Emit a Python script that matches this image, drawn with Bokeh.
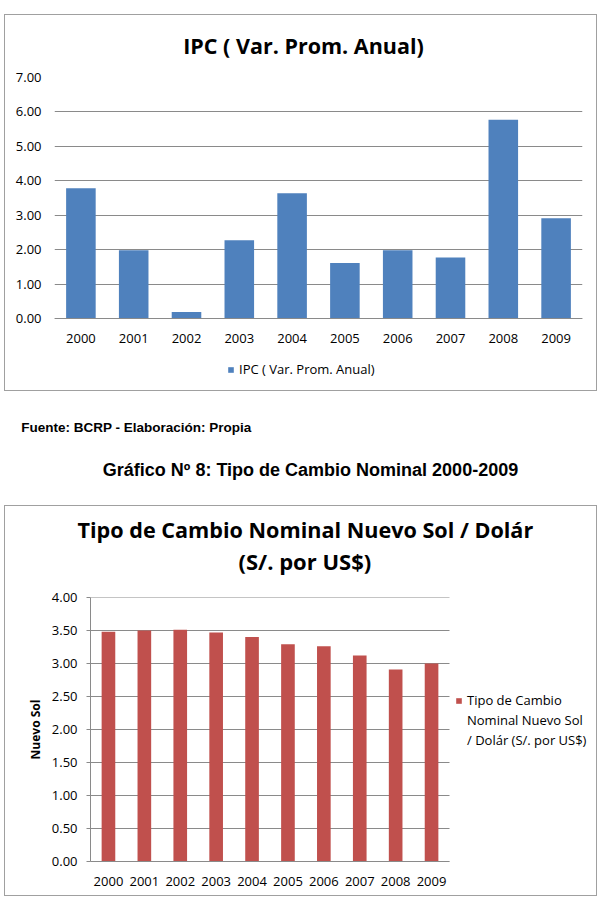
from bokeh.plotting import figure
from bokeh.models import (FactorRange, Range1d, FixedTicker, NumeralTickFormatter,
                          Legend, LegendItem, Label, Title, Spacer, ColumnDataSource)
from bokeh.embed import file_html
from bokeh.resources import INLINE

# ---------------- data ----------------
years = ["2000", "2001", "2002", "2003", "2004", "2005", "2006", "2007", "2008", "2009"]
ipc = [3.78, 1.98, 0.19, 2.27, 3.64, 1.61, 1.98, 1.77, 5.77, 2.91]
tc = [3.48, 3.50, 3.51, 3.47, 3.40, 3.29, 3.26, 3.12, 2.91, 3.00]
ipc_ticks = [0, 1, 2, 3, 4, 5, 6, 7]
tc_ticks = [0, 0.5, 1.0, 1.5, 2.0, 2.5, 3.0, 3.5, 4.0]

ipc_title = "IPC ( Var. Prom. Anual)"
ipc_series = "IPC ( Var. Prom. Anual)"
tc_title_1 = "Tipo de Cambio Nominal Nuevo Sol / Dolár"
tc_title_2 = "(S/. por US$)"
tc_series_lines = ["Tipo de Cambio", "Nominal Nuevo Sol", "/ Dolár (S/. por US$)"]
tc_ylabel = "Nuevo Sol"
source_note = "Fuente: BCRP - Elaboración: Propia"
caption = "Gráfico Nº 8: Tipo de Cambio Nominal 2000-2009"

FONT = "Open Sans"
GRID = "#8a8a8a"
BOX_STYLE = {"outline": "1px solid #a0a0a0", "outline-offset": "-5px"}
W = 601


def style_title(t, text, size, offset, standoff):
    t.text = text
    t.align = "left"
    t.text_font = FONT
    t.text_font_style = "bold"
    t.text_font_size = size
    t.text_color = "#000000"
    t.offset = offset
    t.standoff = standoff
    return t


# ---------------- chart 1: IPC ----------------
H1 = 385
# plot area: 0 at 241px below the 7.00 line; frame continues 67px below 0 to hold the legend
y1_low = -67 / (241 / 7)
p1 = figure(width=W, height=H1, x_range=FactorRange(*years), y_range=Range1d(y1_low, 7),
            output_backend="svg", toolbar_location=None,
            min_border_left=54, min_border_right=19, min_border_top=67, min_border_bottom=10,
            styles=BOX_STYLE)
p1.border_fill_alpha = 0
style_title(p1.title, ipc_title, "21.5px", 128.7, 35)
src1 = ColumnDataSource(dict(x=years, top=ipc))
r1 = p1.vbar(x="x", top="top", width=0.56, source=src1, fill_color="#4F81BD", line_color=None)

p1.yaxis.ticker = FixedTicker(ticks=ipc_ticks)
p1.yaxis.formatter = NumeralTickFormatter(format="0.00")
p1.yaxis.axis_line_color = None
p1.yaxis.major_tick_line_color = None
p1.yaxis.minor_tick_line_color = None
p1.yaxis.major_tick_out = 0
p1.yaxis.major_tick_in = 0
p1.yaxis.major_label_standoff = 13
p1.xaxis.fixed_location = 0
p1.xaxis.axis_line_color = GRID
p1.xaxis.major_tick_line_color = None
p1.xaxis.major_tick_out = 0
p1.xaxis.major_tick_in = 0
p1.xaxis.major_label_standoff = 15
for ax in (p1.xaxis, p1.yaxis):
    ax.major_label_text_font = FONT
    ax.major_label_text_font_size = "13px"
    ax.major_label_text_color = "#000000"
p1.xgrid.grid_line_color = None
p1.ygrid.grid_line_color = GRID
p1.outline_line_color = None

leg1 = Legend(items=[LegendItem(label=ipc_series, renderers=[r1])],
              location=(173, 6), glyph_width=7, glyph_height=7, label_standoff=5,
              label_height=20,
              label_text_font=FONT, label_text_font_size="13px", label_text_color="#000000",
              border_line_color=None, background_fill_alpha=0, margin=0, padding=4)
p1.add_layout(leg1)

# ---------------- middle text ----------------
HM = 106
pm = figure(width=W, height=HM, x_range=Range1d(0, W), y_range=Range1d(0, HM),
            output_backend="svg", toolbar_location=None,
            x_axis_location=None, y_axis_location=None, min_border=0)
pm.title.visible = False
pm.grid.visible = False
pm.outline_line_color = None
pm.add_layout(Label(x=20.7, y=HM - 31.7, text=source_note, text_font="Liberation Sans",
                    text_font_style="bold", text_font_size="13.5px", text_color="#000000",
                    text_align="left", text_baseline="middle"))
pm.add_layout(Label(x=310, y=HM - 74, text=caption, text_font="Liberation Sans",
                    text_font_style="bold", text_font_size="18px", text_color="#000000",
                    text_align="center", text_baseline="middle"))

# ---------------- chart 2: Tipo de cambio ----------------
H2 = 399
xpos = list(range(len(years)))
# bars occupy 359px for the 10 years; the frame continues to the right to hold the legend
x2_end = -0.5 + (592 - 90) / (359 / len(years))
p2 = figure(width=W, height=H2, x_range=Range1d(-0.5, x2_end), y_range=Range1d(0, 4),
            output_backend="svg", toolbar_location=None,
            min_border_left=90, min_border_right=9, min_border_top=96, min_border_bottom=39,
            styles=BOX_STYLE)
p2.border_fill_alpha = 0
style_title(p2.title, tc_title_1, "21.6px", -13, 0)
p2.add_layout(Title(text=" ", text_font=FONT, text_font_size="10px", standoff=6), "above")
p2.add_layout(style_title(Title(), tc_title_2, "22px", 148, 0), "above")

# horizontal gridlines only across the bar area
p2.segment(x0=[-0.5] * len(tc_ticks), x1=[len(years) - 0.5] * len(tc_ticks),
           y0=tc_ticks, y1=tc_ticks, line_color=GRID, line_width=1)
src2 = ColumnDataSource(dict(x=xpos, top=tc))
r2 = p2.vbar(x="x", top="top", width=0.38, source=src2, fill_color="#C0504D", line_color=None)
dummy = p2.vbar(x=[], top=[], width=0.38, fill_alpha=0, line_alpha=0)

p2.yaxis.ticker = FixedTicker(ticks=tc_ticks)
p2.yaxis.formatter = NumeralTickFormatter(format="0.00")
p2.yaxis.axis_line_color = GRID
p2.yaxis.major_tick_line_color = GRID
p2.yaxis.minor_tick_line_color = None
p2.yaxis.major_tick_out = 4
p2.yaxis.major_tick_in = 0
p2.yaxis.major_label_standoff = 9
p2.yaxis.axis_label = tc_ylabel
p2.yaxis.axis_label_text_font = FONT
p2.yaxis.axis_label_text_font_style = "bold"
p2.yaxis.axis_label_text_font_size = "12px"
p2.yaxis.axis_label_text_color = "#000000"
p2.yaxis.axis_label_standoff = 5
p2.xaxis.ticker = FixedTicker(ticks=xpos)
p2.xaxis.major_label_overrides = {i: y for i, y in zip(xpos, years)}
p2.xaxis.bounds = (-0.5, len(years) - 0.5)
p2.xaxis.axis_line_color = GRID
p2.xaxis.major_tick_line_color = None
p2.xaxis.minor_tick_line_color = None
p2.xaxis.major_tick_out = 0
p2.xaxis.major_tick_in = 0
p2.xaxis.major_label_standoff = 15
for ax in (p2.xaxis, p2.yaxis):
    ax.major_label_text_font = FONT
    ax.major_label_text_font_size = "13px"
    ax.major_label_text_color = "#000000"
p2.xgrid.grid_line_color = None
p2.ygrid.grid_line_color = None
p2.outline_line_color = None

leg2 = Legend(items=[LegendItem(label=tc_series_lines[0], renderers=[r2]),
                     LegendItem(label=tc_series_lines[1], renderers=[dummy]),
                     LegendItem(label=tc_series_lines[2], renderers=[dummy])],
              location=(365, 112), glyph_width=7, glyph_height=7, label_standoff=5,
              label_height=18, spacing=2,
              label_text_font=FONT, label_text_font_size="13px", label_text_color="#000000",
              border_line_color=None, background_fill_alpha=0, margin=0, padding=2)
p2.add_layout(leg2)

top_space = Spacer(width=W, height=10)
open("out.html", "w").write(file_html([top_space, p1, pm, p2], INLINE))
